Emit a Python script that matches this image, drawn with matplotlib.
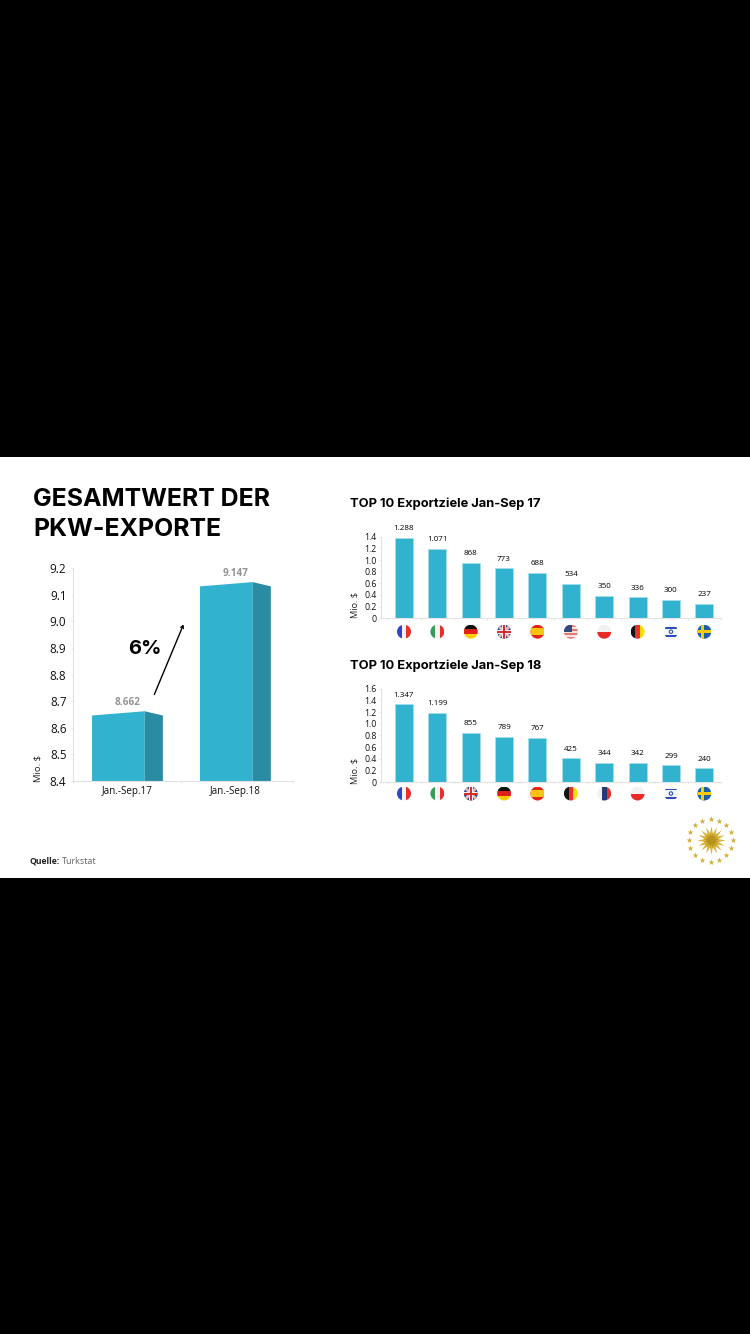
import matplotlib
matplotlib.use('Agg')
import matplotlib.pyplot as plt
from matplotlib.patches import Rectangle, Circle, Polygon

# Chart data
total_labels = ['Jan.-Sep.17', 'Jan.-Sep.18']
total_values = [8.662, 9.147]
total_ticks = [8.4, 8.5, 8.6, 8.7, 8.8, 8.9, 9.0, 9.1, 9.2]

# bar heights as drawn differ from the printed labels in the 2017 panel
flags_17 = ['fr', 'it', 'de', 'gb', 'es', 'us', 'pl', 'be', 'il', 'se']
heights_17 = [1.378, 1.19, 0.95, 0.857, 0.777, 0.589, 0.383, 0.36, 0.314, 0.245]
labels_17 = ['1.288', '1.071', '868', '773', '688', '534', '350', '336', '300', '237']
ticks_17 = [0, 0.2, 0.4, 0.6, 0.8, 1.0, 1.2, 1.4]

flags_18 = ['fr', 'it', 'gb', 'de', 'es', 'be', 'nl', 'pl', 'il', 'se']
heights_18 = [1.333, 1.185, 0.848, 0.775, 0.757, 0.41, 0.33, 0.33, 0.29, 0.24]
labels_18 = ['1.347', '1.199', '855', '789', '767', '425', '344', '342', '299', '240']
ticks_18 = [0, 0.2, 0.4, 0.6, 0.8, 1.0, 1.2, 1.4, 1.6]

W, H = 750, 1334
BAR = '#31b2ce'
SIDE = '#2a8ca2'
AXIS = '#e2e2e2'
FONT = 'Open Sans'
HEAD = 'Inter'

plt.rcParams['font.family'] = [FONT, 'DejaVu Sans']


def px_axes(fig, left, top, right, bottom):
    return fig.add_axes([left / W, 1 - bottom / H, (right - left) / W, (bottom - top) / H])


def style_axes(ax, ticks, size, pad):
    ax.set_yticks(ticks)
    ax.set_yticklabels([f'{t:.1f}' if t != 0 else '0' for t in ticks], fontsize=size, color='#111111')
    for s in ['top', 'right']:
        ax.spines[s].set_visible(False)
    for s in ['left', 'bottom']:
        ax.spines[s].set_color(AXIS)
        ax.spines[s].set_linewidth(0.8)
    ax.tick_params(axis='y', length=1.5, width=0.6, color=AXIS, pad=pad)
    ax.tick_params(axis='x', length=1.5, width=0.6, color=AXIS)
    ax.patch.set_alpha(0)


def draw_flag(bg, cx, cy, code, r=7):
    clip = Circle((cx, cy), r, transform=bg.transData)
    x0, y0, d = cx - r, cy - r, 2 * r

    def vert(parts):
        return [Rectangle((x0 + d * i / len(parts), y0), d / len(parts), d, fc=c, ec='none')
                for i, c in enumerate(parts)]

    def horiz(parts):
        return [Rectangle((x0, y0 + d * i / len(parts)), d, d / len(parts), fc=c, ec='none')
                for i, c in enumerate(parts)]

    items = []
    if code == 'fr':
        items = vert(['#2f45c4', '#f4f4f4', '#e8312c'])
    elif code == 'it':
        items = vert(['#3a9a5b', '#f4f4f4', '#e8312c'])
    elif code == 'de':
        items = horiz(['#111111', '#e0201c', '#fbcb0a'])
    elif code == 'be':
        items = vert(['#111111', '#e8312c', '#fbdc0a'])
    elif code == 'nl':
        items = vert(['#f2f2f2', '#243a78', '#e8312c'])
    elif code == 'pl':
        items = horiz(['#f1f1f1', '#ea2a26'])
    elif code == 'es':
        items = [Rectangle((x0, y0), d, d, fc='#e0261f', ec='none'),
                 Rectangle((x0, cy - r / 2), d, r, fc='#fbc30a', ec='none')]
    elif code == 'se':
        items = [Rectangle((x0, y0), d, d, fc='#1c5ea8', ec='none'),
                 Rectangle((x0, cy - 1.4), d, 2.8, fc='#fbcb0a', ec='none'),
                 Rectangle((cx - 3.2, y0), 2.8, d, fc='#fbcb0a', ec='none')]
    elif code == 'il':
        items = [Rectangle((x0, y0), d, d, fc='#f6f6f6', ec='none'),
                 Rectangle((x0 + 1, cy - 5), d - 2, 1.8, fc='#2a50b8', ec='none'),
                 Rectangle((x0 + 1, cy + 3.2), d - 2, 1.8, fc='#2a50b8', ec='none'),
                 Circle((cx, cy), 1.7, fc='none', ec='#2a50b8', lw=0.8)]
    elif code == 'gb':
        items = [Rectangle((x0, y0), d, d, fc='#2f4590', ec='none'),
                 Polygon([(x0, y0), (x0 + 2, y0), (x0 + d, y0 + d - 2), (x0 + d, y0 + d), (x0 + d - 2, y0 + d), (x0, y0 + 2)], fc='#eab8b8', ec='none'),
                 Polygon([(x0 + d, y0), (x0 + d, y0 + 2), (x0 + 2, y0 + d), (x0, y0 + d), (x0, y0 + d - 2), (x0 + d - 2, y0)], fc='#eab8b8', ec='none'),
                 Rectangle((x0, cy - 1.9), d, 3.8, fc='#f4f4f4', ec='none'),
                 Rectangle((cx - 1.9, y0), 3.8, d, fc='#f4f4f4', ec='none'),
                 Rectangle((x0, cy - 1.0), d, 2.0, fc='#d92b2b', ec='none'),
                 Rectangle((cx - 1.0, y0), 2.0, d, fc='#d92b2b', ec='none')]
    elif code == 'us':
        items = horiz(['#e07a72', '#f6e2de', '#e07a72', '#f6e2de', '#e07a72', '#f6e2de', '#e07a72'])
        items.append(Rectangle((x0, y0), d * 0.55, d * 0.5, fc='#34497f', ec='none'))
    for it in items:
        bg.add_patch(it)
        it.set_clip_path(clip)


def top_panel(fig, bg, top, bottom, ymax, ticks, heights, labels, flags, flag_y, mio_y):
    ax = px_axes(fig, 381, top, 721, bottom)
    xs = list(range(len(heights)))
    ax.bar(xs, heights, width=0.54, color=BAR, edgecolor='#a8e0ec', linewidth=0.4)
    ax.set_xlim(-0.69, 9.5)
    ax.set_ylim(0, ymax)
    style_axes(ax, ticks, 6.3, 1.5)
    ax.set_xticks([x + 0.5 for x in [-1] + xs])
    ax.set_xticklabels([])
    for x, h, lab in zip(xs, heights, labels):
        ax.annotate(lab, (x, h), xytext=(0, 6.5), textcoords='offset points', ha='center', va='center',
                    fontsize=5.8, color='black')
    for x, code in zip(xs, flags):
        px = ax.transData.transform((x, 0))[0] / fig.dpi * 100
        draw_flag(bg, px, flag_y, code)
    bg.text(355, mio_y, 'Mio. $', rotation=90, ha='center', va='center', fontsize=6.6, color='#222222')


fig = plt.figure(figsize=(W / 100, H / 100), dpi=100, facecolor='black')

# full figure layer in pixel coordinates for the white slide and decoration
bg = fig.add_axes([0, 0, 1, 1])
bg.set_xlim(0, W)
bg.set_ylim(H, 0)
bg.axis('off')
bg.add_patch(Rectangle((0, 457), W, 421, fc='white', ec='none'))

bg.text(33, 499.5, 'GESAMTWERT DER', fontsize=17.9, fontweight='bold', family=HEAD, va='center', color='black')
bg.text(33, 529.5, 'PKW-EXPORTE', fontsize=17.9, fontweight='bold', family=HEAD, va='center', color='black')
bg.text(350, 504, 'TOP 10 Exportziele Jan-Sep 17', fontsize=9.3, fontweight='bold', family=HEAD, va='center', color='black')
bg.text(350, 666, 'TOP 10 Exportziele Jan-Sep 18', fontsize=9.3, fontweight='bold', family=HEAD, va='center', color='black')

# left panel, bars with a fake 3D side
ax = px_axes(fig, 72.7, 568, 293, 781)
ax.set_xlim(-0.507, 1.533)
ax.set_ylim(8.4, 9.2)
front_w, side_w = 0.488, 0.168
drop = 0.016
for i, val in enumerate(total_values):
    x0 = i - (front_w + side_w) / 2
    x1 = x0 + front_w
    x2 = x1 + side_w
    ax.add_patch(Polygon([(x0, 8.4), (x0, val - drop), (x1, val), (x1, 8.4)], fc=BAR, ec='none'))
    ax.add_patch(Polygon([(x1, 8.4), (x1, val), (x2, val - drop), (x2, 8.4)], fc=SIDE, ec='none'))
    ax.annotate(f'{val:.3f}', (i, val), xytext=(0, 6.2), textcoords='offset points', ha='center',
                va='center', fontsize=7.2, fontweight='bold', color='#949494')
style_axes(ax, total_ticks, 8.4, 3)
ax.set_xticks([-0.507, 0.5, 1.533])
ax.set_xticklabels([])
for i, lab in enumerate(total_labels):
    ax.annotate(lab, (i, 8.4), xytext=(0, -7.3), textcoords='offset points', ha='center', va='center',
                fontsize=7.1, color='#111111')

bg.text(38, 768, 'Mio. $', rotation=90, ha='center', va='center', fontsize=6.8, color='#222222')
bg.text(145, 649.5, '6%', fontsize=14.5, fontweight='bold', family=HEAD, ha='center', va='center', color='black')
bg.annotate('', xy=(183.5, 624.5), xytext=(154.3, 694.5),
            arrowprops=dict(arrowstyle='->,head_length=0.17,head_width=0.1', color='black', lw=1.0,
                            shrinkA=0, shrinkB=0))

# right panels
top_panel(fig, bg, 536.7, 618.3, 1.4, ticks_17, heights_17, labels_17, flags_17, 631.7, 605)
top_panel(fig, bg, 688.7, 782.3, 1.6, ticks_18, heights_18, labels_18, flags_18, 793.5, 771)

# source line
bg.text(29.5, 861, 'Quelle:', fontsize=6.2, fontweight='bold', va='center', color='#222222')
bg.text(61.5, 861, 'Turkstat', fontsize=6.4, va='center', color='#666666')

# emblem, sun with ring of stars
ex, ey = 710.5, 840
bg.scatter([ex], [ey], s=420, marker=(16, 1, 0), color='#d8b23a', linewidths=0, zorder=3)
bg.scatter([ex], [ey], s=130, marker=(16, 1, 11), color='#b8921c', linewidths=0, zorder=4)
ring_x = [710.5, 719, 726, 731, 732.5, 731, 726, 719, 710.5, 702, 695, 690, 688.5, 690, 695, 702]
ring_y = [819, 820.5, 825, 832, 840, 848, 855, 860, 861.5, 860, 855, 848, 840, 832, 825, 820.5]
bg.scatter(ring_x, ring_y, s=20, marker='*', color='#d2ae35', linewidths=0, zorder=3)

fig.savefig('out.png', dpi=100, facecolor='black')
